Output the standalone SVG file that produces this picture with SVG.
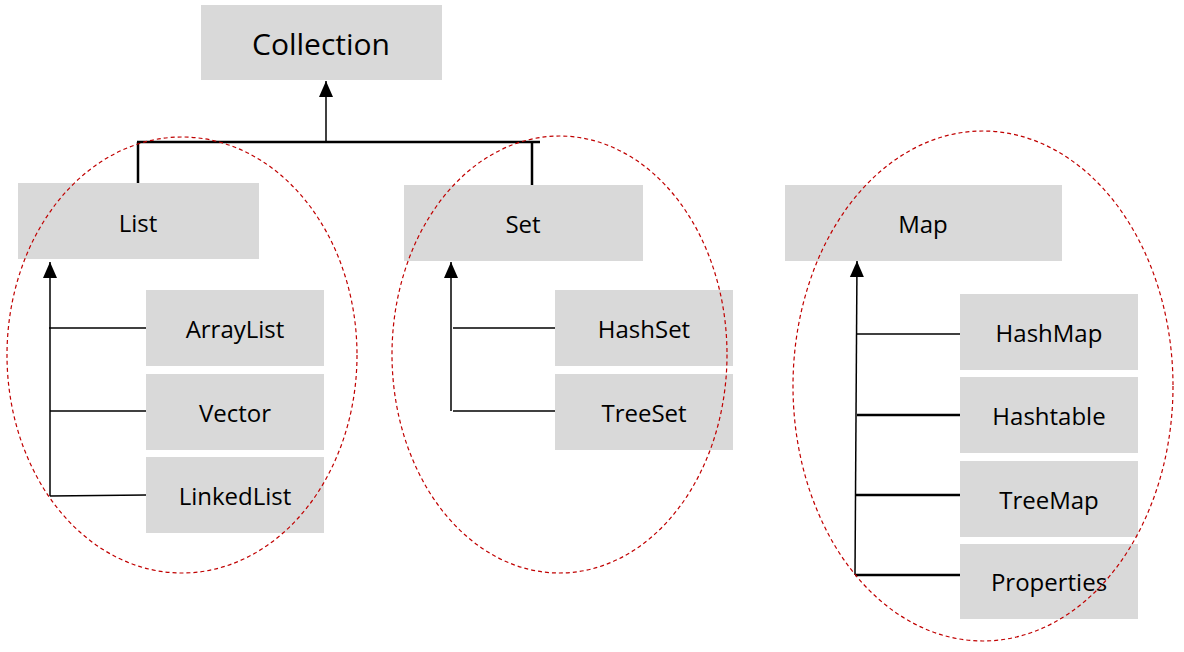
<svg xmlns="http://www.w3.org/2000/svg" width="1184" height="652" viewBox="0 0 1184 652">
<style>
.box{fill:#d9d9d9}
.lbl{font-family:"Open Sans","Noto Sans",sans-serif;font-size:24px;fill:#000;text-anchor:middle;dominant-baseline:central}
.big{font-size:30px}
.ln{stroke:#000;stroke-width:1.5;fill:none}
.bar{stroke:#000;stroke-width:2.5;fill:none}
.grp{fill:none;stroke:#c00000;stroke-width:1.2;stroke-dasharray:4 3}
</style>
<defs>
<marker id="arr" viewBox="0 0 16 16" markerWidth="16" markerHeight="16" refX="16" refY="8" orient="auto" markerUnits="userSpaceOnUse">
<path d="M0,1 L16,8 L0,15 Z" fill="#000"/>
</marker>
</defs>
<rect width="1184" height="652" fill="#fff"/>
<g id="nodes">
<g id="collection"><rect class="box" x="201" y="5" width="241" height="75"/><text class="lbl big" x="321" y="43">Collection</text></g>
<g id="list"><rect class="box" x="18" y="183" width="241" height="76"/><text class="lbl" x="138" y="222">List</text></g>
<g id="set"><rect class="box" x="404" y="185" width="239" height="76"/><text class="lbl" x="523" y="223">Set</text></g>
<g id="map"><rect class="box" x="785" y="185" width="277" height="76"/><text class="lbl" x="923" y="223">Map</text></g>
<g id="arraylist"><rect class="box" x="146" y="290" width="178" height="76"/><text class="lbl" x="235" y="328">ArrayList</text></g>
<g id="vector"><rect class="box" x="146" y="374" width="178" height="76"/><text class="lbl" x="235" y="412">Vector</text></g>
<g id="linkedlist"><rect class="box" x="146" y="457" width="178" height="76"/><text class="lbl" x="235" y="495">LinkedList</text></g>
<g id="hashset"><rect class="box" x="555" y="290" width="178" height="76"/><text class="lbl" x="644" y="328">HashSet</text></g>
<g id="treeset"><rect class="box" x="555" y="374" width="178" height="76"/><text class="lbl" x="644" y="412">TreeSet</text></g>
<g id="hashmap"><rect class="box" x="960" y="294" width="178" height="76"/><text class="lbl" x="1049" y="332">HashMap</text></g>
<g id="hashtable"><rect class="box" x="960" y="377" width="178" height="76"/><text class="lbl" x="1049" y="415">Hashtable</text></g>
<g id="treemap"><rect class="box" x="960" y="461" width="178" height="76"/><text class="lbl" x="1049" y="499">TreeMap</text></g>
<g id="properties"><rect class="box" x="960" y="544" width="178" height="75"/><text class="lbl" x="1049" y="581">Properties</text></g>
</g>
<g id="connectors">
<line class="ln" x1="326" y1="142" x2="326" y2="81" marker-end="url(#arr)"/>
<line class="bar" x1="137" y1="142" x2="540" y2="142"/>
<line class="bar" x1="138" y1="142" x2="138" y2="183"/>
<line class="bar" x1="532" y1="142" x2="532" y2="185"/>
<line class="ln" x1="50" y1="496" x2="50" y2="262" marker-end="url(#arr)"/>
<line class="ln" x1="49" y1="328" x2="146" y2="328"/>
<line class="ln" x1="50" y1="411" x2="146" y2="411"/>
<line class="ln" x1="50" y1="496" x2="146" y2="495"/>
<line class="ln" x1="451" y1="411" x2="451" y2="262" marker-end="url(#arr)"/>
<line class="ln" x1="453" y1="328" x2="555" y2="328"/>
<line class="ln" x1="453" y1="411" x2="555" y2="411"/>
<line class="ln" x1="855" y1="575" x2="857" y2="261" marker-end="url(#arr)"/>
<line class="ln" x1="857" y1="334" x2="960" y2="334"/>
<line class="bar" x1="857" y1="415" x2="960" y2="415"/>
<line class="bar" x1="856" y1="495" x2="960" y2="495"/>
<line class="bar" x1="855" y1="575" x2="960" y2="575"/>
</g>
<g id="groups">
<ellipse class="grp" cx="182" cy="355" rx="175" ry="218"/>
<ellipse class="grp" cx="559.5" cy="354.5" rx="167.5" ry="218.5"/>
<ellipse class="grp" cx="983" cy="386" rx="190" ry="255"/>
</g>
</svg>
